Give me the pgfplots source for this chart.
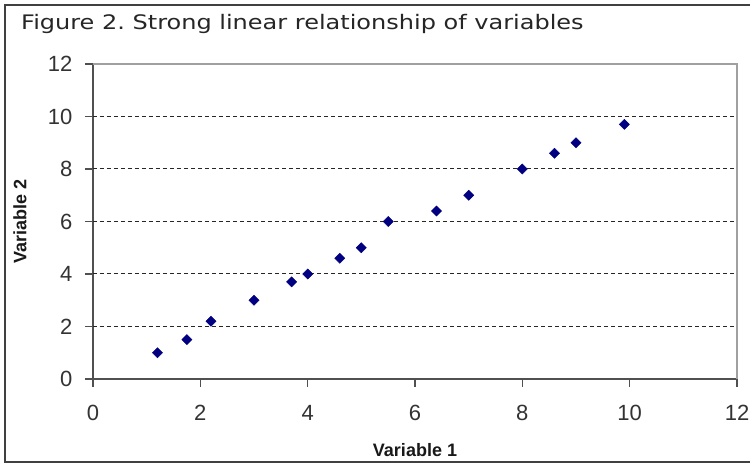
\documentclass[border=0pt]{standalone}
\usepackage{fontspec}
\setmainfont{Liberation Sans}
\newfontfamily\verdana{DejaVu Sans}
\usepackage{graphicx}
\usepackage{pgfplots}
\pgfplotsset{compat=1.18}
\definecolor{navy}{HTML}{000080}
\definecolor{axisdark}{HTML}{505050}
\definecolor{bordergray}{HTML}{A0A0A0}
\begin{document}
\frenchspacing
\begin{tikzpicture}[x=1pt,y=1pt]
\useasboundingbox (0,0) rectangle (750,465);
\fill[white] (0,0) rectangle (750,465);
\draw[line width=1.5pt, black!75] (750,3) -- (5,3) -- (5,460) -- (750,460);
\node[anchor=base west, inner sep=0pt, text=black!85] at (21,435) {\scalebox{1.2}[1]{\verdana\fontsize{20}{22}\selectfont Figure 2. Strong linear relationship of variables}};
\begin{axis}[
  at={(93pt,86pt)}, anchor=south west,
  scale only axis, width=644pt, height=315pt,
  xmin=0, xmax=12, ymin=0, ymax=12,
  xtick={0,2,...,12}, ytick={0,2,...,12},
  axis x line*=bottom, axis y line*=left,
  axis line style={axisdark, line width=1.6pt, -},
  tick align=outside, major tick length=8pt,
  tick style={axisdark, line width=1.2pt},
  /pgf/number format/assume math mode=true,
  ticklabel style={font=\fontsize{22}{22}\selectfont, text=black!80},
  xticklabel style={yshift=-15pt},
  yticklabel style={xshift=-9pt},
  extra y ticks={2,4,6,8,10},
  extra y tick style={grid=major, major tick length=0pt, yticklabels={}},
  grid style={black!85, line width=1pt, dash pattern=on 4pt off 3pt},
  xlabel={Variable 1}, ylabel={Variable 2},
  every axis x label/.style={at={(rel axis cs:0.5,0)}, anchor=base, yshift=-78pt, font=\bfseries\fontsize{18}{18}\selectfont, text=black!90},
  every axis y label/.style={at={(rel axis cs:0,0.5)}, anchor=center, xshift=-73pt, rotate=90, font=\bfseries\fontsize{18}{18}\selectfont, text=black!90},
  clip=false,
]
\draw[bordergray, line width=1.6pt] (rel axis cs:0,1) -- (rel axis cs:1,1) -- (rel axis cs:1,0);
\addplot[only marks, mark=square*, mark size=3.6pt, mark options={rotate=45, fill=navy, draw=navy}] coordinates {
(1.2,1.0) (1.75,1.5) (2.2,2.2) (3.0,3.0) (3.7,3.7) (4.0,4.0) (4.6,4.6) (5.0,5.0)
(5.5,6.0) (6.4,6.4) (7.0,7.0) (8.0,8.0) (8.6,8.6) (9.0,9.0) (9.9,9.7)
};
\end{axis}
\end{tikzpicture}
\end{document}
